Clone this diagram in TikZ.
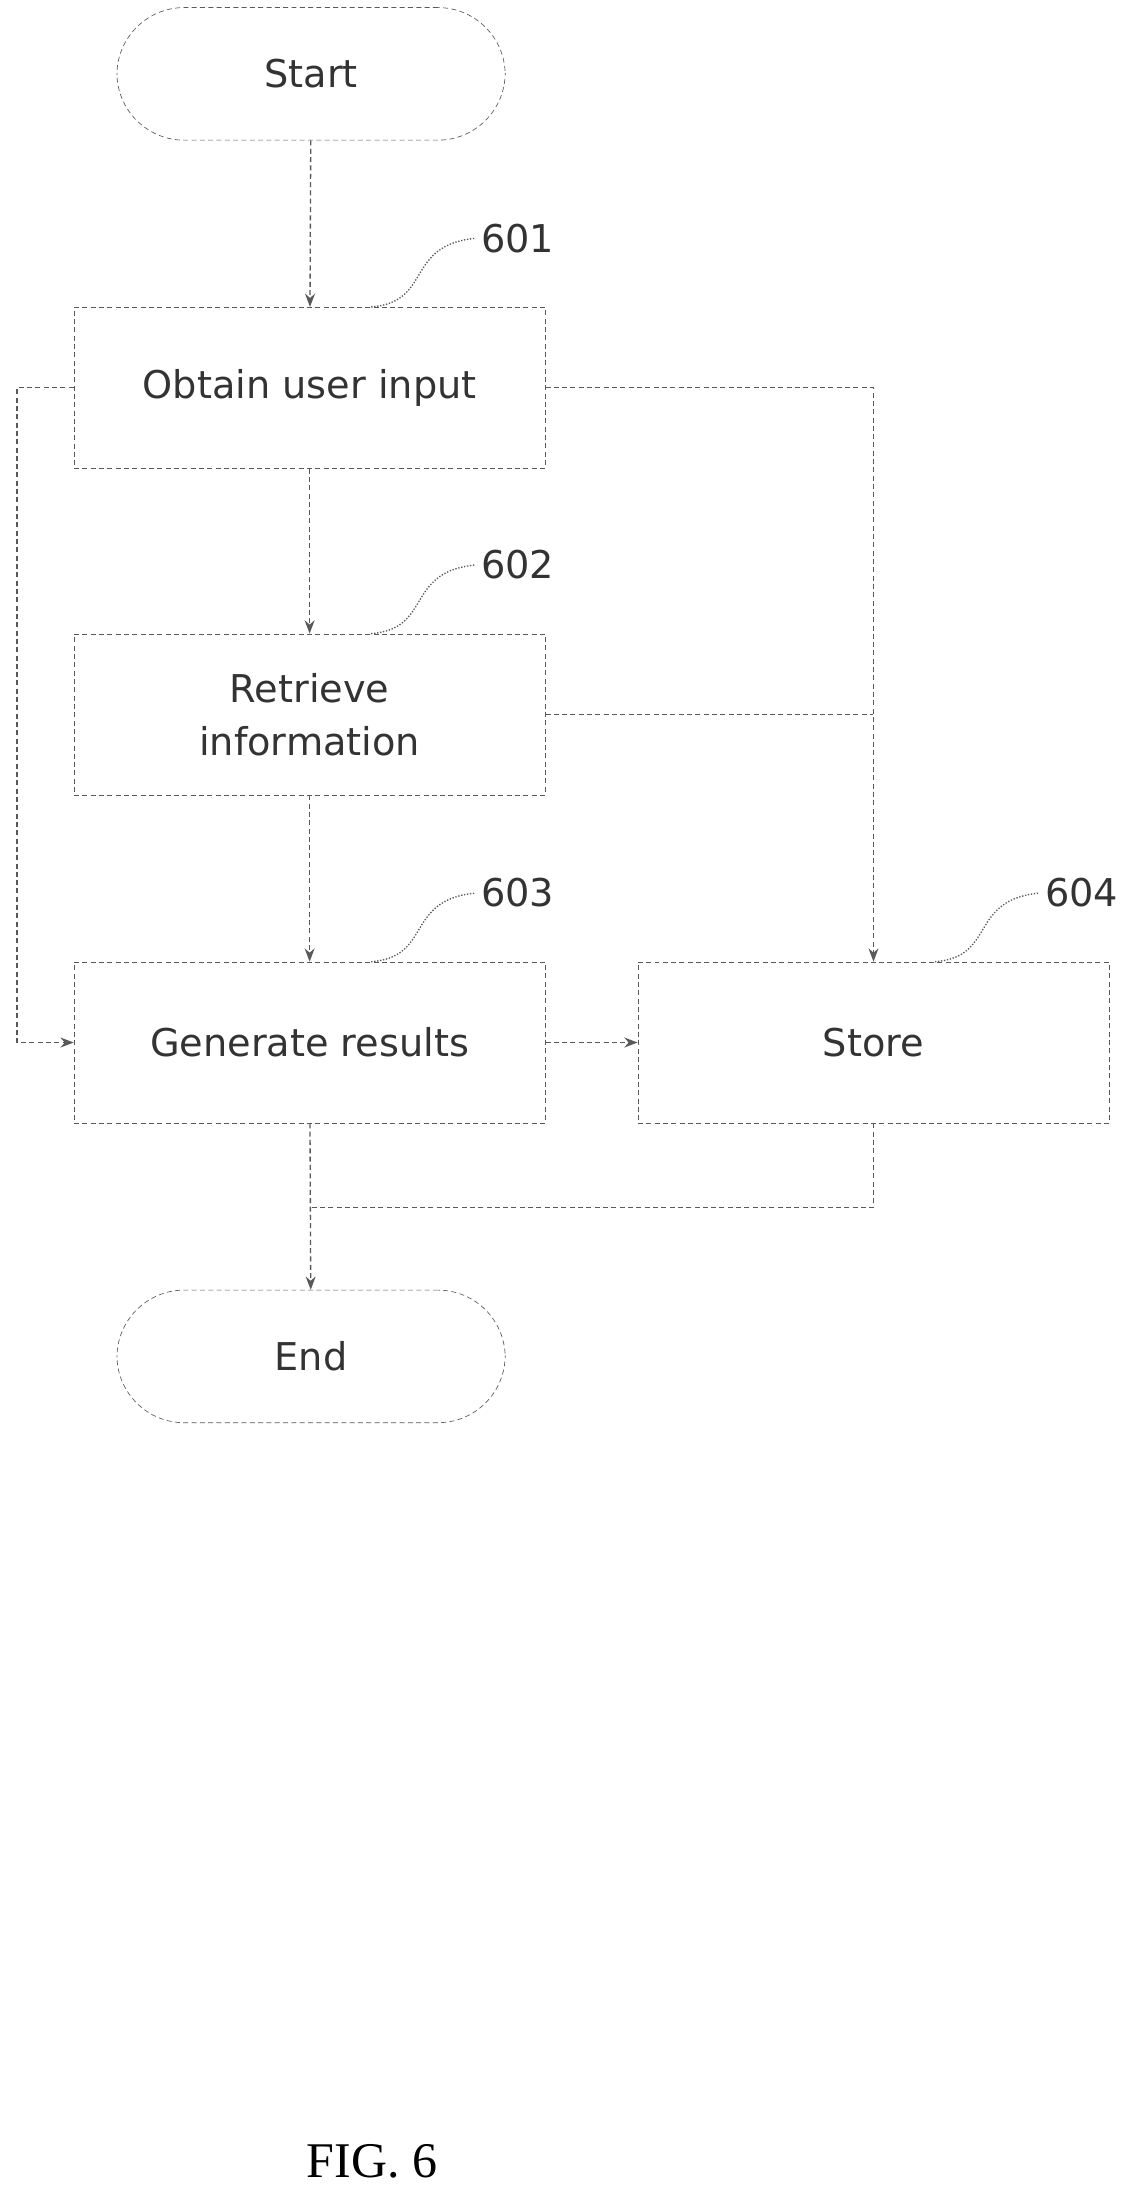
\documentclass[tikz,border=0pt]{standalone}
\usepackage{fontspec}
\setmainfont{DejaVu Sans}
\newfontfamily\figfont{Liberation Serif}
\usetikzlibrary{shapes, positioning, arrows.meta}

\begin{document}
\begin{tikzpicture}[x = 0.03cm, y = -0.03cm,
   block/.style = {draw, densely dashed, gray!70!black, text = black!80, minimum width = 9.95cm, minimum height = 3.4cm, align = center, font = \fontsize{23}{32}\selectfont},
   term/.style = {block, rounded corners = 1.42cm, minimum width = 8.2cm, minimum height = 2.8cm},
   link/.style = {densely dashed, gray!70!black, thick},
   arr/.style = {link, -{Stealth[length = 8pt, width = 6pt]}},
   tag/.style = {font = \fontsize{23}{28}\selectfont, text = black!80}]

\useasboundingbox (0, 0) rectangle (800, 1556);

\node[term] (start) at (219, 52) {Start};
\node[block] (obtain) at (218, 273) {Obtain user input};
\node[block] (retrieve) at (218, 503) {Retrieve\\information};
\node[block] (generate) at (218, 734) {Generate results};
\node[block] (store) at (615, 734) {Store};
\node[term] (end) at (219, 955) {End};

\coordinate (left) at (12, 273);
\coordinate (right) at (615, 273);
\coordinate (join) at (615, 850);

\draw[arr] (start) -- (obtain);
\draw[arr] (obtain) -- (retrieve);
\draw[arr] (retrieve) -- (generate);
\draw[arr] (generate) -- (store);
\draw[arr] (generate) -- (end);
\draw[arr] (obtain.west) -- (left) |- (generate.west);
\draw[arr] (obtain.east) -- (right) -- (store.north);
\draw[link] (retrieve.east) -- (retrieve.east -| right);
\draw[link] (store.south) -- (join) -- (join -| generate.south);

% step numbers
\foreach \n/\nd in {601/obtain, 602/retrieve, 603/generate, 604/store} {
  \node[tag, anchor = west] (n\n) at ([xshift = 3.5cm, yshift = 1.45cm] \nd.north) {\n};
  \draw[link, densely dotted] ([xshift = 1.3cm] \nd.north) .. controls ([xshift = 2.6cm, yshift = 0.1cm] \nd.north) and ([xshift = 2.0cm, yshift = 1.3cm] \nd.north) .. (n\n.west);
}

\node[font = \figfont\fontsize{30}{34}\selectfont] (fig) at (262, 1522) {FIG. 6};
\end{tikzpicture}
\end{document}
